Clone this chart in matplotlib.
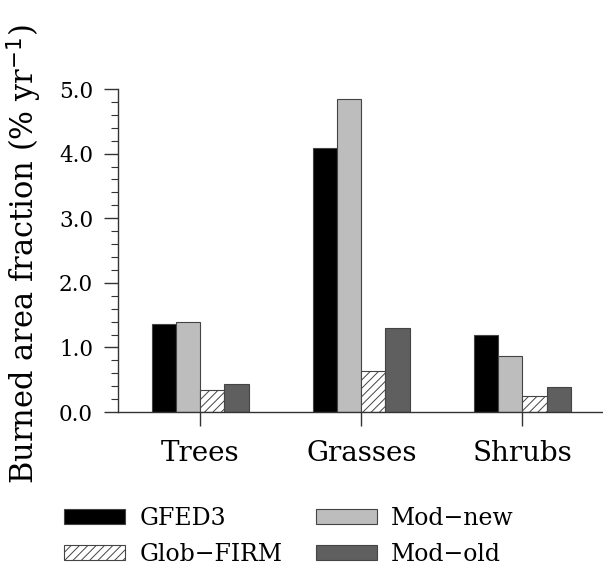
import numpy as np
import matplotlib.pyplot as plt
from matplotlib.ticker import MultipleLocator

# Data
categories = ["Trees", "Grasses", "Shrubs"]
gfed3 = [1.37, 4.09, 1.20]
mod_new = [1.39, 4.85, 0.86]
glob_firm = [0.34, 0.64, 0.25]
mod_old = [0.44, 1.30, 0.39]

plt.rcParams['font.family'] = ['DejaVu Serif']
plt.rcParams['hatch.color'] = '#555555'
plt.rcParams['hatch.linewidth'] = 0.7

fig = plt.figure(figsize=(6.03, 5.68), dpi=100)
ax = fig.add_axes([0.1957, 0.2746, 0.8043, 0.5687])

x = np.arange(len(categories))
w = 0.15
edge = '#444444'
b1 = ax.bar(x - 2 * w, gfed3, w, align='edge', color='black', edgecolor=edge, linewidth=0.8)
b2 = ax.bar(x - w, mod_new, w, align='edge', color='#bdbdbd', edgecolor=edge, linewidth=0.8)
b3 = ax.bar(x, glob_firm, w, align='edge', color='white', edgecolor=edge, linewidth=0.8, hatch='////')
b4 = ax.bar(x + w, mod_old, w, align='edge', color='#5f5f5f', edgecolor=edge, linewidth=0.8)

ax.set_xlim(-0.51, 2.5)
ax.set_ylim(0, 5)
ax.spines['top'].set_visible(False)
ax.spines['right'].set_visible(False)
for s in ['left', 'bottom']:
    ax.spines[s].set_color('#333333')
    ax.spines[s].set_linewidth(1.0)

ax.set_xticks(x)
ax.set_xticklabels(categories, fontsize=20)
ax.tick_params(axis='x', direction='out', length=10, width=1, pad=10, color='#333333')
ax.yaxis.set_major_locator(MultipleLocator(1.0))
ax.yaxis.set_minor_locator(MultipleLocator(0.2))
ax.set_yticklabels([f"{v:.1f}" for v in ax.get_yticks()], fontsize=15.5)
ax.tick_params(axis='y', which='major', direction='out', length=10, width=1, pad=8, color='#333333')
ax.tick_params(axis='y', which='minor', direction='out', length=5, width=0.8, color='#333333')
ax.set_ylabel("Burned area fraction (% yr$^{-1}$)", fontsize=22)
ax.yaxis.set_label_coords(-0.152, 0.49)

fig.legend([b1, b3, b2, b4], ["GFED3", "Glob\u2212FIRM", "Mod\u2212new", "Mod\u2212old"],
           ncol=2, loc='upper left', bbox_to_anchor=(64 / 603, 1 - 507 / 568), frameon=False,
           fontsize=17, handlelength=2.6, handleheight=0.6, handletextpad=0.6,
           columnspacing=1.4, labelspacing=0.55, borderpad=0, borderaxespad=0)

fig.savefig("out.png", dpi=100)
